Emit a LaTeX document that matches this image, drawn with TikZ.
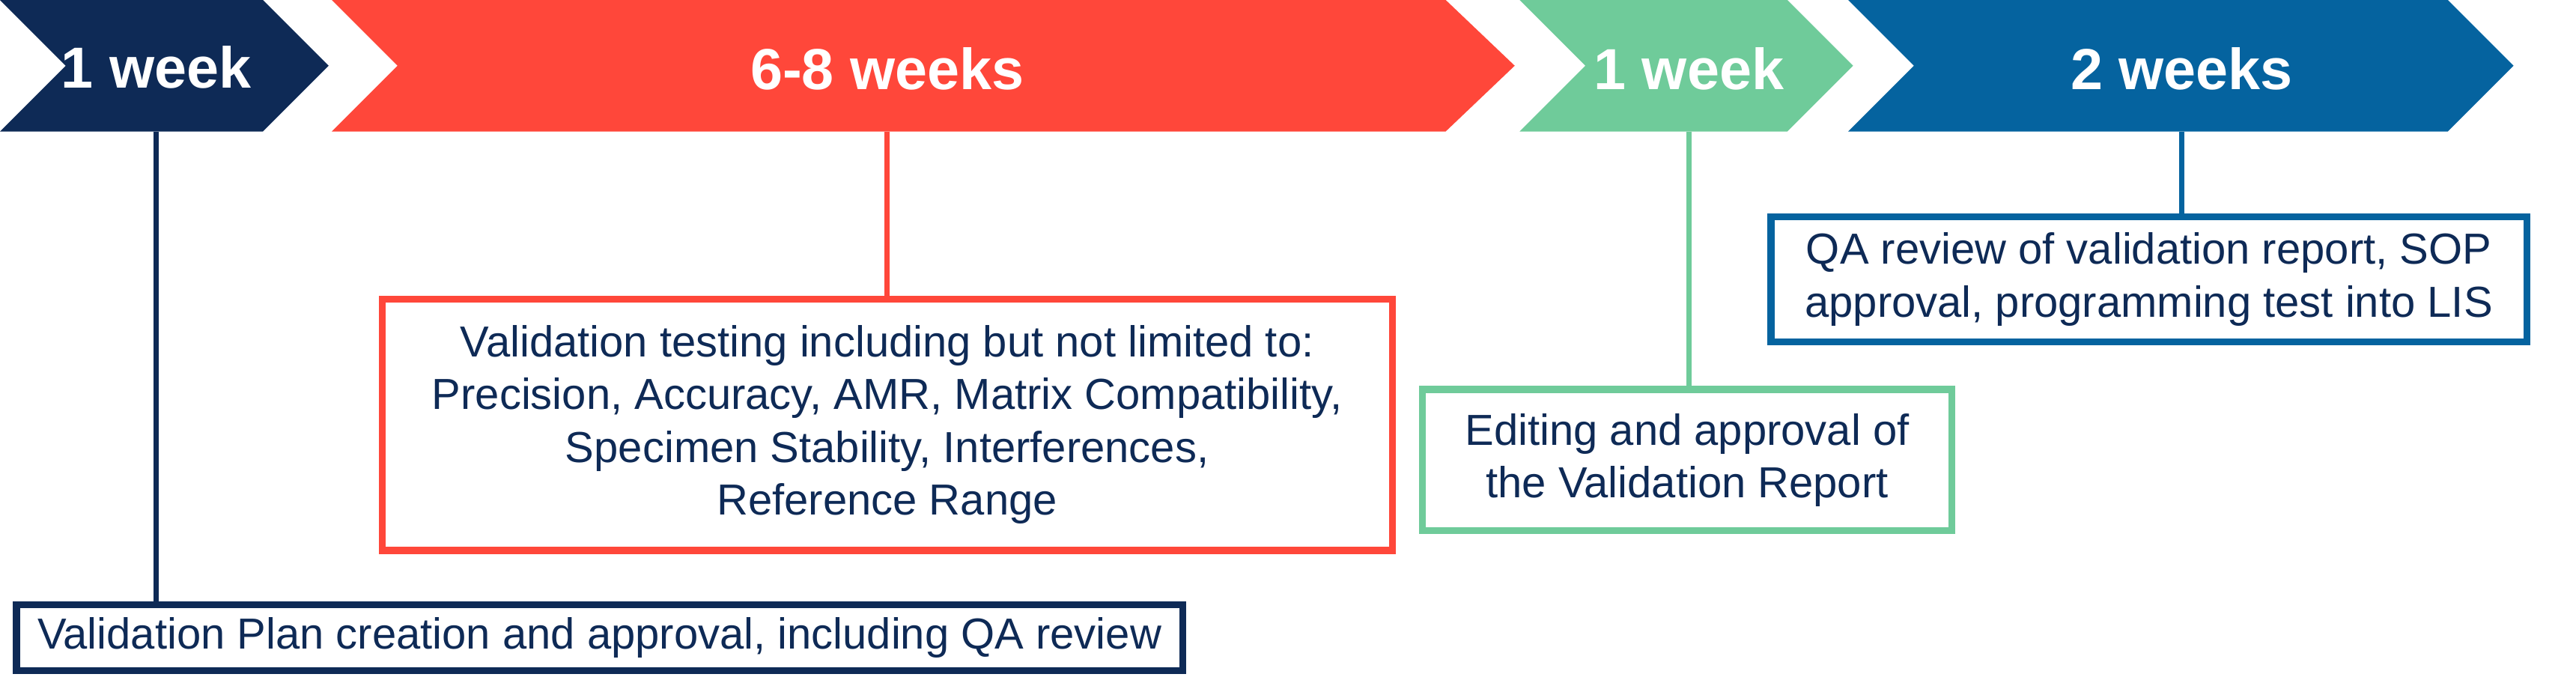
\documentclass[tikz,border=0pt]{standalone}
\usepackage{fontspec}
\setmainfont{Liberation Sans}
\definecolor{cnavy}{HTML}{0E2A56}
\definecolor{cred}{HTML}{FF473A}
\definecolor{cgreen}{HTML}{6FCB9A}
\definecolor{cblue}{HTML}{05639F}
\begin{document}
\begin{tikzpicture}[x=0.02194cm,y=-0.02194cm,
  head/.style={text=white,font=\bfseries\fontsize{22}{26}\selectfont},
  box/.style={draw=#1,line width=2.6pt,fill=white,text=cnavy,align=center,font=\fontsize{16.5}{20}\selectfont,inner sep=0pt},
  conn/.style={draw=#1,line width=2pt}]
\useasboundingbox (0,0) rectangle (1568,419);
\fill[cnavy] (0,0)--(160,0)--(200,40)--(160,80)--(0,80)--(40,40)--cycle;
\fill[cred] (202,0)--(880,0)--(922,40)--(880,80)--(202,80)--(242,40)--cycle;
\fill[cgreen] (925,0)--(1088,0)--(1128,40)--(1088,80)--(925,80)--(965,40)--cycle;
\fill[cblue] (1125,0)--(1490,0)--(1530,40)--(1490,80)--(1125,80)--(1165,40)--cycle;
\node[head] (h1) at (95,41) {1 week};
\node[head] (h2) at (540,42) {6-8 weeks};
\node[head] (h3) at (1028,42) {1 week};
\node[head] (h4) at (1328,42) {2 weeks};
\coordinate (t1) at (95,80);
\coordinate (t2) at (540,80);
\coordinate (t3) at (1028,80);
\coordinate (t4) at (1328,80);
\node[box=cnavy,minimum width=710*0.02194cm,minimum height=40*0.02194cm] (b1) at (365,388) {Validation Plan creation and approval, including QA review};
\node[box=cred,minimum width=615*0.02194cm,minimum height=153*0.02194cm] (b2) at (540,258.5) {Validation testing including but not limited to:\\Precision, Accuracy, AMR, Matrix Compatibility,\\Specimen Stability, Interferences,\\Reference Range};
\node[box=cgreen,minimum width=322*0.02194cm,minimum height=86*0.02194cm] (b3) at (1027,280) {Editing and approval of\\the Validation Report};
\node[box=cblue,minimum width=460*0.02194cm,minimum height=76*0.02194cm] (b4) at (1308,170) {QA review of validation report, SOP\\approval, programming test into LIS};
\draw[conn=cnavy] (t1) -- (b1.north -| t1);
\draw[conn=cred] (t2) -- (b2.north);
\draw[conn=cgreen] (t3) -- (b3.north -| t3);
\draw[conn=cblue] (t4) -- (b4.north -| t4);
\end{tikzpicture}
\end{document}
